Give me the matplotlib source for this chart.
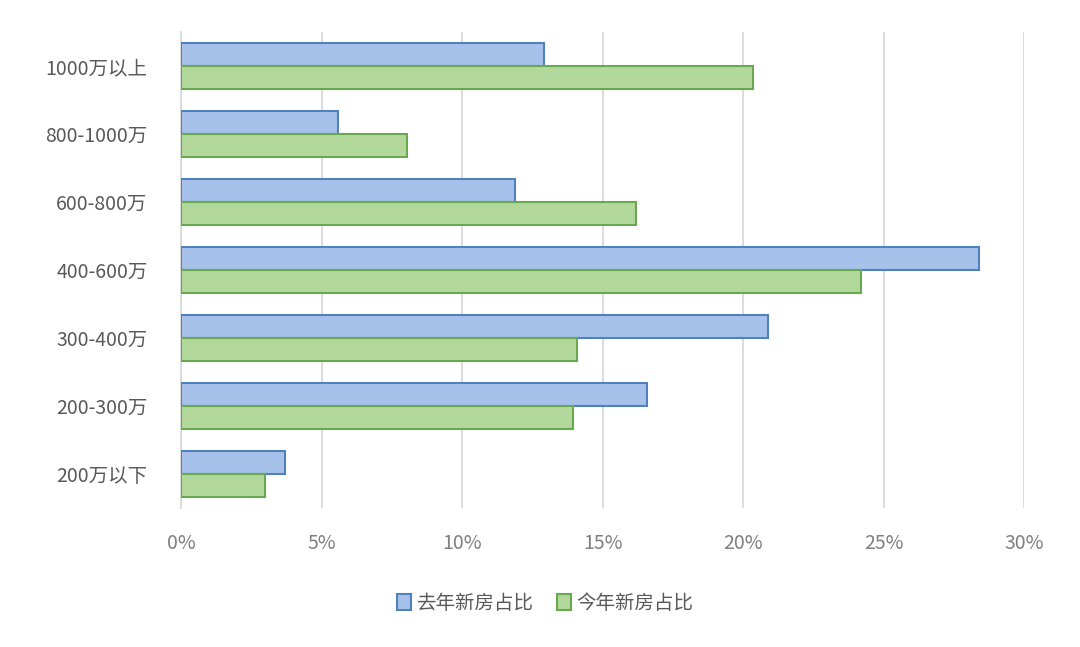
import matplotlib
matplotlib.use("Agg")
import matplotlib.pyplot as plt
import numpy as np

plt.rcParams['font.family'] = ['Noto Sans CJK SC', 'DejaVu Sans']

categories = ["1000万以上", "800-1000万", "600-800万", "400-600万", "300-400万", "200-300万", "200万以下"]
last_year = [12.9, 5.6, 11.9, 28.4, 20.9, 16.6, 3.7]
this_year = [20.35, 8.05, 16.2, 24.2, 14.1, 13.95, 3.0]
xticks = [0, 5, 10, 15, 20, 25, 30]
xticklabels = ["0%", "5%", "10%", "15%", "20%", "25%", "30%"]
series_names = ["去年新房占比", "今年新房占比"]

fig = plt.figure(figsize=(10.8, 6.47), dpi=100)
ax = fig.add_axes([0.1676, 0.215, 0.7806, 0.7355])
y = np.arange(len(categories))
h = 0.34
ax.barh(y - h/2, last_year, height=h, color="#a7c2ea", edgecolor="#4f81bd", linewidth=1.5, label=series_names[0], zorder=3)
ax.barh(y + h/2, this_year, height=h, color="#b3d89b", edgecolor="#6aa84f", linewidth=1.5, label=series_names[1], zorder=3)
ax.set_ylim(len(categories) - 0.5, -0.5)
ax.set_xlim(0, 30)
ax.set_yticks(y)
ax.set_yticklabels(categories, fontsize=14, color="#595959")
ax.set_xticks(xticks)
ax.set_xticklabels(xticklabels, fontsize=14, color="#7f7f7f")
ax.tick_params(length=0, pad=10)
ax.tick_params(axis='y', pad=24)
ax.tick_params(axis='x', pad=18)
ax.grid(axis='x', color="#d9d9d9", linewidth=1.3, zorder=0)
for s in ["top", "right", "bottom"]:
    ax.spines[s].set_visible(False)
ax.spines["left"].set_color("#d9d9d9")
ax.spines["left"].set_linewidth(1.3)
leg = fig.legend(loc="center", bbox_to_anchor=(0.505, 0.068), ncol=2, frameon=False,
                 fontsize=14, handlelength=0.7, handleheight=0.9, columnspacing=1.2, handletextpad=0.3)
for t in leg.get_texts():
    t.set_color("#595959")
fig.savefig("out.png", dpi=100, facecolor="white")
